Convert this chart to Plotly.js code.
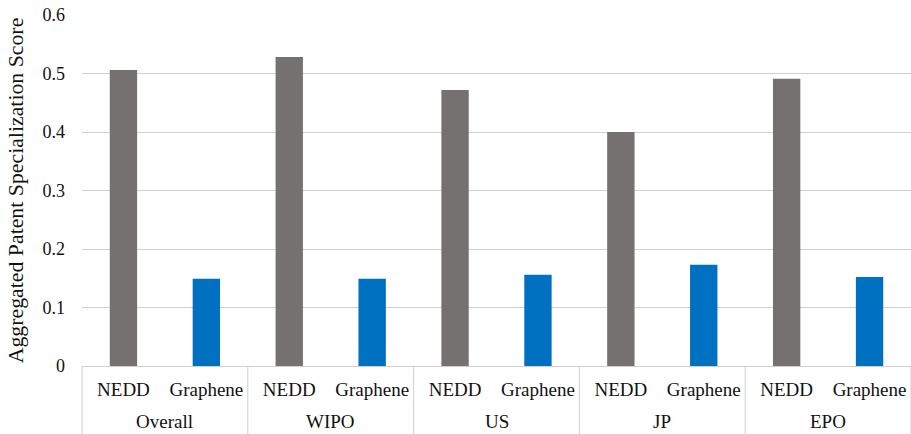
<!DOCTYPE html>
<html>
<head>
<meta charset="utf-8">
<script src="https://cdn.plot.ly/plotly-3.0.1.min.js"></script>
<style>html,body{margin:0;padding:0;background:#fff;}#chart{width:911px;height:434px;}</style>
</head>
<body>
<div id="chart"></div>
<script>
const groups = ["Overall", "WIPO", "US", "JP", "EPO"];
const seriesNames = ["NEDD", "Graphene"];
const neddValues = [0.506, 0.528, 0.472, 0.400, 0.491];
const grapheneValues = [0.149, 0.149, 0.156, 0.173, 0.152];
const yTicks = [0, 0.1, 0.2, 0.3, 0.4, 0.5, 0.6];
const yTickLabels = ["0", "0.1", "0.2", "0.3", "0.4", "0.5", "0.6"];

const seriesColors = ["#767171", "#0070C0"];
const FAMILY = "Liberation Serif";
const TEXT = "#111111";
const LINE = "#d0d0d0";

// slot positions along the axis, derived from group / series order
const xPos = [], xLabels = [], yVals = [], colors = [];
groups.forEach((g, i) => {
  [neddValues[i], grapheneValues[i]].forEach((v, j) => {
    xPos.push(i * seriesNames.length + j);
    xLabels.push(seriesNames[j]);
    yVals.push(v);
    colors.push(seriesColors[j]);
  });
});
const nSlots = xPos.length;

const data = [{
  type: "bar",
  x: xPos,
  y: yVals,
  marker: {color: colors, line: {width: 0}},
  hoverinfo: "y"
}];

const annotations = groups.map((g, i) => ({
  text: g,
  xref: "x", yref: "paper",
  x: i * seriesNames.length + (seriesNames.length - 1) / 2,
  y: 0,
  yanchor: "middle", xanchor: "center",
  yshift: -55,
  showarrow: false,
  font: {family: FAMILY, size: 19, color: TEXT}
}));

const shapes = [{
  type: "line", xref: "paper", yref: "paper",
  x0: 0, x1: 0, y0: 0, y1: -68 / 351,
  line: {color: LINE, width: 1}
}];
for (let i = 1; i <= groups.length; i++) {
  const b = i * seriesNames.length - 0.5;
  shapes.push({
    type: "line", xref: "x", yref: "paper",
    x0: b, x1: b, y0: 0, y1: -68 / 351,
    line: {color: LINE, width: 1}
  });
}

const layout = {
  width: 911, height: 434,
  margin: {l: 82, r: 0, t: 15, b: 68, pad: 0},
  paper_bgcolor: "#fff", plot_bgcolor: "#fff",
  showlegend: false,
  bargap: 0.67,
  font: {family: FAMILY, size: 18, color: TEXT},
  xaxis: {
    type: "linear",
    range: [-0.5, nSlots - 0.5],
    tickmode: "array",
    tickvals: xPos, ticktext: xLabels,
    showgrid: false,
    zeroline: false,
    showline: true, linecolor: LINE, linewidth: 1,
    ticks: "",
    ticklabelstandoff: 6,
    tickfont: {family: FAMILY, size: 19, color: TEXT},
    automargin: false
  },
  yaxis: {
    range: [0, 0.6],
    tickmode: "array",
    tickvals: yTicks, ticktext: yTickLabels,
    showgrid: true, gridcolor: LINE, gridwidth: 1,
    zeroline: false,
    showline: false,
    ticks: "",
    ticklabelstandoff: 16,
    tickfont: {family: FAMILY, size: 18, color: TEXT},
    automargin: false,
    title: {text: "Aggregated Patent Specialization Score", font: {family: FAMILY, size: 21.8, color: TEXT}, standoff: 12}
  },
  annotations: annotations,
  shapes: shapes
};

Plotly.newPlot("chart", data, layout, {displayModeBar: false, staticPlot: true});
</script>
</body>
</html>
